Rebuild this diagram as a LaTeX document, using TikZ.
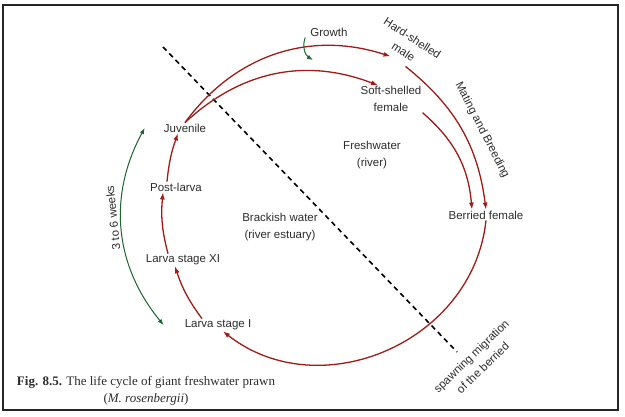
\documentclass[tikz,border=0pt]{standalone}
\usepackage{fontspec}
\setmainfont{Liberation Serif}
\setsansfont{Liberation Sans}
\usetikzlibrary{arrows.meta,positioning}
\definecolor{rak}{RGB}{160,28,22}
\definecolor{zold}{RGB}{30,100,45}
\definecolor{szoveg}{RGB}{45,45,45}
\tikzset{
  felirat/.style={font=\sffamily\fontsize{11.5}{16.5}\selectfont,text=szoveg,align=center,inner sep=1pt},
  piros/.style={draw=rak,line width=1.3pt,-{Latex[length=7pt,width=5pt]}},
  zold/.style={draw=zold,line width=1pt},
  nyil/.style={-{Latex[length=6pt,width=4.5pt]}},
  ketnyil/.style={{Latex[length=6pt,width=4.5pt]}-{Latex[length=6pt,width=4.5pt]}},
  szaggat/.style={line width=1.6pt,dash pattern=on 5pt off 4pt},
  keret/.style={draw=black!85,line width=1.5pt},
}

\begin{document}
\begin{tikzpicture}[x=1pt,y=1pt]
  \useasboundingbox (0,0) rectangle (625,-416);
  \fill[white] (0,0) rectangle (625,-416);
  \draw[keret] (3,-5) rectangle (618,-410);
  % stages
  \node[felirat] (juv) at (185,-128) {Juvenile};
  \node[felirat] (post) at (176,-187) {Post-larva};
  \node[felirat] (l11) at (183,-260) {Larva stage XI};
  \node[felirat] (l1) at (218,-325) {Larva stage I};
  \node[felirat] (soft) at (391,-99) {Soft-shelled\\female};
  \node[felirat,rotate=-33] (hard) at (408,-45) {Hard-shelled\\male};
  \node[felirat] (berr) at (486,-215) {Berried female};
  \node[felirat] (grow) at (329,-32) {Growth};
  % zones
  \node[felirat] (fresh) at (372,-155) {Freshwater\\(river)};
  \node[felirat] (brack) at (280,-227) {Brackish water\\(river estuary)};
  \node[felirat,rotate=-63] (mate) at (482,-130) {Mating and Breeding};
  \node[felirat,rotate=44] (spawn) at (477,-362) {spawning migration\\of the berried};
  \node[felirat,rotate=96] (weeks) at (113,-218) {3 to 6 weeks};
  \coordinate (d1) at (163,-47);
  \coordinate (d2) at (457,-352);
  \coordinate (growvege) at (313,-60);
  \draw[szaggat] (d1) -- (d2);
  % cycle
  \draw[piros] (juv.north) to[bend left=36] ([xshift=-10pt]hard.south);
  \draw[piros] (juv.north) to[bend left=32] ([xshift=-13pt]soft.north);
  \draw[piros] ([shift={(5pt,-10pt)}]hard.south) to[bend left=22] (berr.north);
  \draw[piros] (soft.south east) to[bend left=22] ([xshift=-14pt]berr.north);
  \draw[piros] (berr.south) to[bend left=61,looseness=1.1] ([xshift=5pt]l1.south);
  \draw[piros] ([xshift=-16pt]l1.north) to[bend left=9] ([xshift=-8pt]l11.south);
  \draw[piros] ([xshift=-15pt]l11.north) to[bend left=10] ([xshift=-13pt]post.south);
  \draw[piros] ([xshift=-9pt]post.north) to[bend left=7] ([xshift=-7pt]juv.south);
  \draw[zold,ketnyil] ([xshift=-18pt]juv.west) to[bend right=34] ([xshift=-20pt]l1.west);
  \draw[zold,nyil] ([xshift=-4pt]grow.south west) to[bend right=40] (growvege);
  % caption
  \node[align=center,font=\fontsize{13}{17}\selectfont,text=szoveg,inner sep=1pt] (cap) at (146,-391)
    {\textbf{Fig. 8.5.} The life cycle of giant freshwater prawn\\(\textit{M. rosenbergii})};
\end{tikzpicture}
\end{document}
